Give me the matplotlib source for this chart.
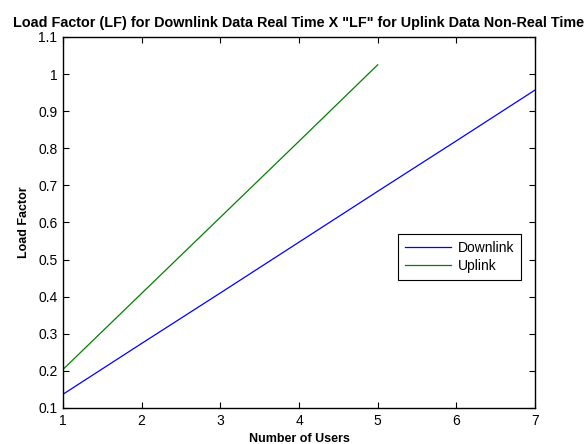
import matplotlib
matplotlib.use("Agg")
import matplotlib.pyplot as plt

plt.rcParams["font.family"] = ["Liberation Sans", "DejaVu Sans"]

users_down = [1, 2, 3, 4, 5, 6, 7]
lf_down = [0.137, 0.274, 0.410, 0.547, 0.684, 0.820, 0.957]
users_up = [1, 2, 3, 4, 5]
lf_up = [0.204, 0.409, 0.614, 0.819, 1.025]

x_ticks = [1, 2, 3, 4, 5, 6, 7]
y_ticks = [0.1, 0.2, 0.3, 0.4, 0.5, 0.6, 0.7, 0.8, 0.9, 1.0, 1.1]
y_labels = ["0.1", "0.2", "0.3", "0.4", "0.5", "0.6", "0.7", "0.8", "0.9", "1", "1.1"]

fig = plt.figure(figsize=(5.86, 4.44), dpi=100)
ax = fig.add_axes([0.1075, 0.0811, 0.8055, 0.8356])

ax.plot(users_down, lf_down, color="#0000ff", linewidth=0.9, label="Downlink")
ax.plot(users_up, lf_up, color="#008000", linewidth=0.9, label="Uplink")

ax.set_xlim(1, 7)
ax.set_ylim(0.1, 1.1)
ax.set_xticks(x_ticks)
ax.set_yticks(y_ticks)
ax.set_yticklabels(y_labels)
ax.tick_params(direction="in", length=4, width=0.8, top=True, right=True,
               labelsize=10, pad=4)
for s in ax.spines.values():
    s.set_linewidth(1.0)

ax.set_title('Load Factor (LF) for Downlink Data Real Time X "LF" for Uplink Data Non-Real Time',
             fontsize=10.4, fontweight="bold", pad=7)
ax.set_xlabel("Number of Users", fontsize=9, fontweight="bold", labelpad=4)
ax.set_ylabel("Load Factor", fontsize=9, fontweight="bold", labelpad=6)

leg = ax.legend(loc="center", bbox_to_anchor=(0.84, 0.408), fancybox=False,
                edgecolor="black", framealpha=1, fontsize=10, handlelength=3.3,
                borderpad=0.5, labelspacing=0.3, handletextpad=0.5)
leg.get_frame().set_linewidth(0.8)

fig.savefig("out.png", dpi=100)
